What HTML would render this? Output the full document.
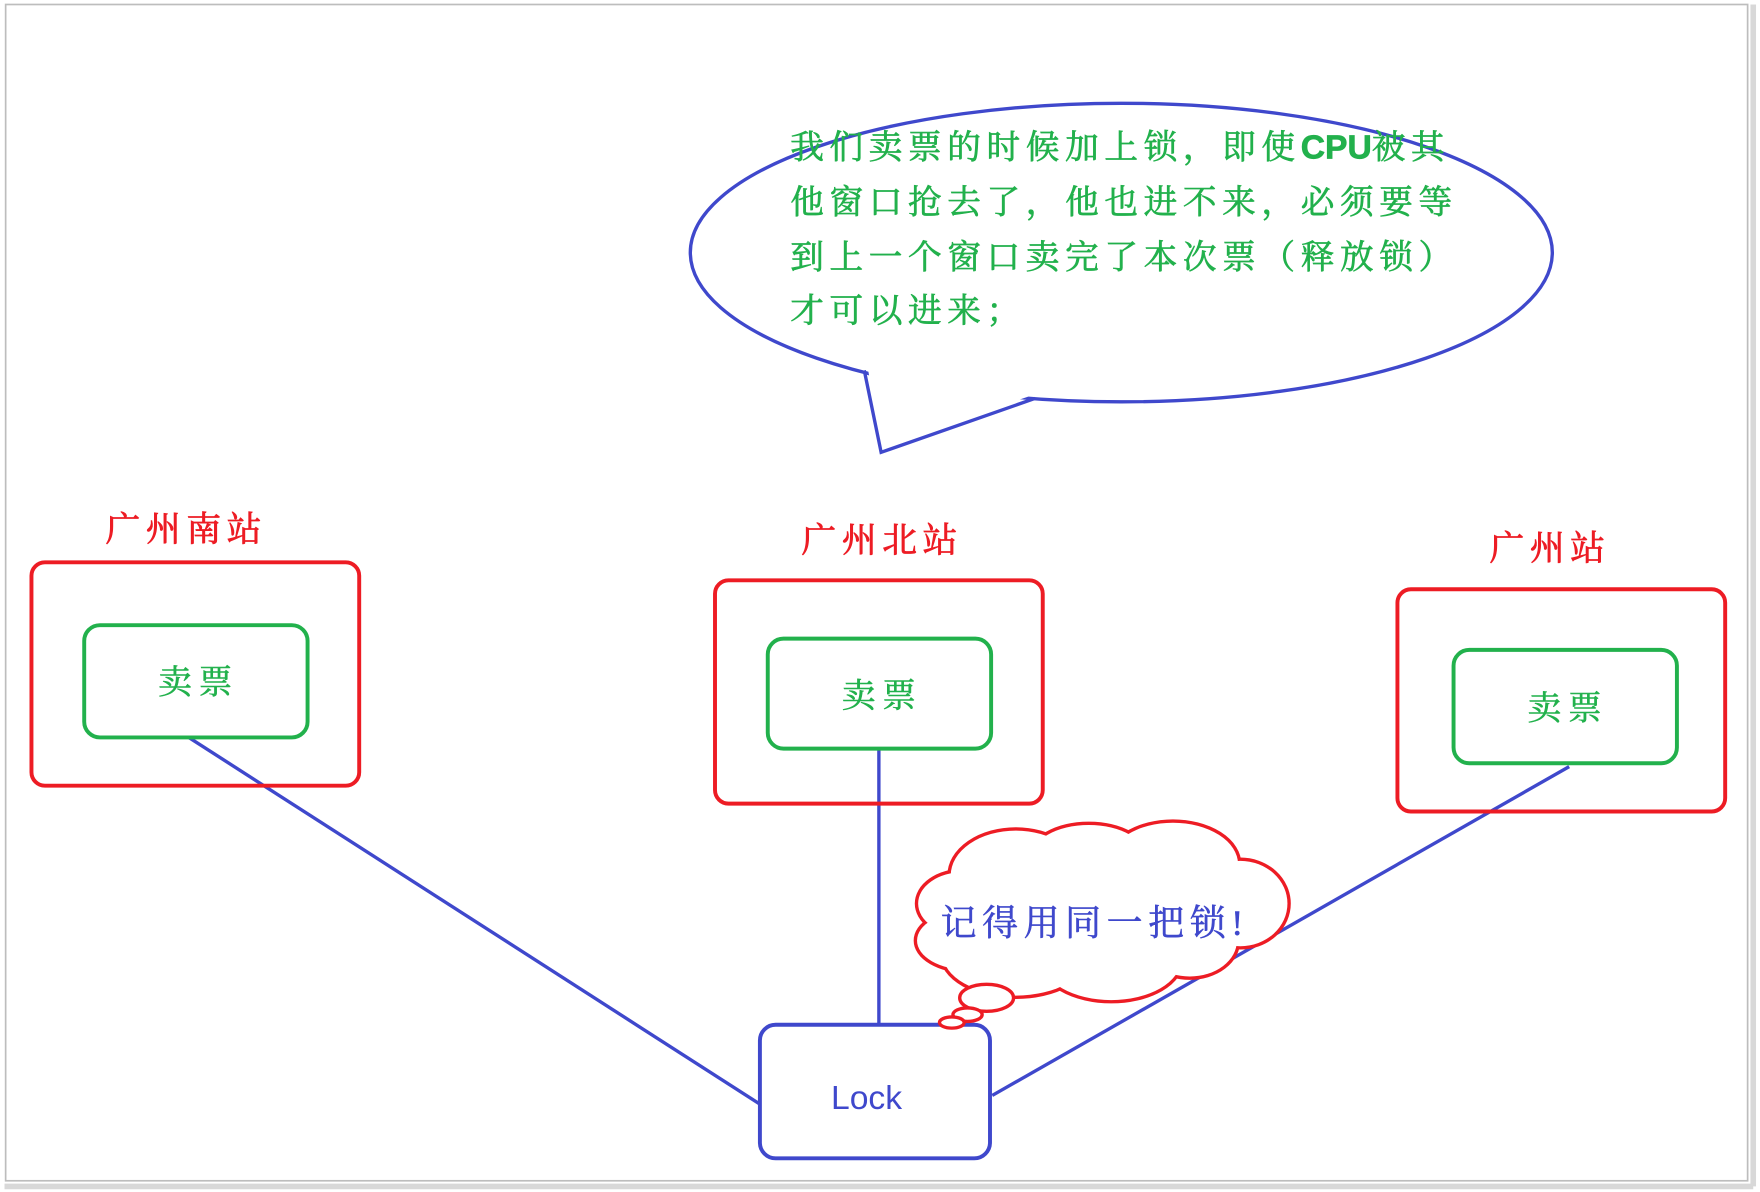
<!DOCTYPE html>
<html><head><meta charset="utf-8"><style>
html,body{margin:0;padding:0;background:#fff;}
svg{display:block;}
.cn{font-family:"Liberation Serif","Noto Serif CJK SC",serif;}
</style></head><body>
<svg width="1760" height="1192" viewBox="0 0 1568 1062" xmlns="http://www.w3.org/2000/svg">
<rect x="0" y="0" width="1568" height="1062" fill="#fff"/>
<line x1="1562" y1="4" x2="1562" y2="1057" stroke="#d8d8d8" stroke-width="5"/>
<line x1="4" y1="1057" x2="1562" y2="1057" stroke="#d8d8d8" stroke-width="5"/>
<rect x="5" y="4" width="1552" height="1048" fill="#fff" stroke="#bdbdbd" stroke-width="1.5"/>

<!-- speech bubble -->
<ellipse cx="999" cy="225" rx="384" ry="133" fill="#fff" stroke="#3f48cc" stroke-width="3"/>
<polygon points="772,322 786,398 920,352 900,340" fill="#fff"/>
<polyline points="770,330 785,403 922,355" fill="none" stroke="#3f48cc" stroke-width="3"/>
<g class="cn" fill="#22b14c" font-size="30" letter-spacing="5" stroke="#22b14c" stroke-width="0.6">
<text x="704" y="141">我们卖票的时候加上锁，即使<tspan font-family="Liberation Sans, sans-serif" font-weight="bold" letter-spacing="0">CPU</tspan>被其</text>
<text x="704" y="190">他窗口抢去了，他也进不来，必须要等</text>
<text x="704" y="239">到上一个窗口卖完了本次票（释放锁）</text>
<text x="704" y="287">才可以进来；</text>
</g>

<!-- lines -->
<g stroke="#3f48cc" stroke-width="3">
<line x1="165" y1="655" x2="679" y2="985"/>
<line x1="783" y1="667" x2="783" y2="913"/>
<line x1="1398" y1="683" x2="884" y2="976"/>
</g>

<!-- station boxes -->
<g fill="none" stroke="#ed1c24" stroke-width="3.5">
<rect x="28" y="501" width="292" height="199" rx="12"/>
<rect x="637" y="517" width="292" height="199" rx="12"/>
<rect x="1245" y="525" width="292" height="198" rx="12"/>
</g>
<g fill="#fff" stroke="#22b14c" stroke-width="3.5">
<rect x="75" y="557" width="199" height="100" rx="14"/>
<rect x="684" y="569" width="199" height="98" rx="14"/>
<rect x="1295" y="579" width="199" height="101" rx="14"/>
</g>
<g class="cn" fill="#ed1c24" font-size="31" letter-spacing="5" stroke="#ed1c24" stroke-width="0.7">
<text x="94" y="482">广州南站</text>
<text x="714" y="492">广州北站</text>
<text x="1327" y="499">广州站</text>
</g>
<g class="cn" fill="#22b14c" font-size="30" letter-spacing="6" text-anchor="middle" stroke="#22b14c" stroke-width="0.5">
<text x="177" y="618">卖票</text>
<text x="786" y="630">卖票</text>
<text x="1397" y="641">卖票</text>
</g>

<!-- lock -->
<rect x="677" y="913" width="205" height="119" rx="14" fill="#fff" stroke="#3f48cc" stroke-width="3.5"/>
<text x="772" y="988" font-family="Liberation Sans, sans-serif" font-size="30" fill="#3f48cc" text-anchor="middle">Lock</text>

<!-- cloud -->
<g fill="none" stroke="#ed1c24" stroke-width="6">
<ellipse cx="858" cy="805" rx="40" ry="28"/>
<ellipse cx="905" cy="780" rx="58" ry="40"/>
<ellipse cx="970" cy="765" rx="52" ry="30"/>
<ellipse cx="1045" cy="770" rx="58" ry="37"/>
<ellipse cx="1105" cy="805" rx="42" ry="38"/>
<ellipse cx="1060" cy="838" rx="42" ry="32"/>
<ellipse cx="990" cy="855" rx="62" ry="36"/>
<ellipse cx="905" cy="850" rx="65" ry="37"/>
<ellipse cx="862" cy="838" rx="45" ry="26"/>
<ellipse cx="980" cy="812" rx="120" ry="55"/>
</g>
<g fill="#fff">
<ellipse cx="858" cy="805" rx="40" ry="28"/>
<ellipse cx="905" cy="780" rx="58" ry="40"/>
<ellipse cx="970" cy="765" rx="52" ry="30"/>
<ellipse cx="1045" cy="770" rx="58" ry="37"/>
<ellipse cx="1105" cy="805" rx="42" ry="38"/>
<ellipse cx="1060" cy="838" rx="42" ry="32"/>
<ellipse cx="990" cy="855" rx="62" ry="36"/>
<ellipse cx="905" cy="850" rx="65" ry="37"/>
<ellipse cx="862" cy="838" rx="45" ry="26"/>
<ellipse cx="980" cy="812" rx="120" ry="55"/>
</g>
<g fill="#fff" stroke="#ed1c24" stroke-width="3">
<ellipse cx="879" cy="889" rx="24" ry="12"/>
<ellipse cx="862" cy="904" rx="13" ry="6"/>
<ellipse cx="848" cy="911" rx="11" ry="5"/>
</g>
<text class="cn" x="838" y="833" font-size="32" letter-spacing="5" fill="#3f48cc" stroke="#3f48cc" stroke-width="0.5">记得用同一把锁!</text>
</svg>
</body></html>
